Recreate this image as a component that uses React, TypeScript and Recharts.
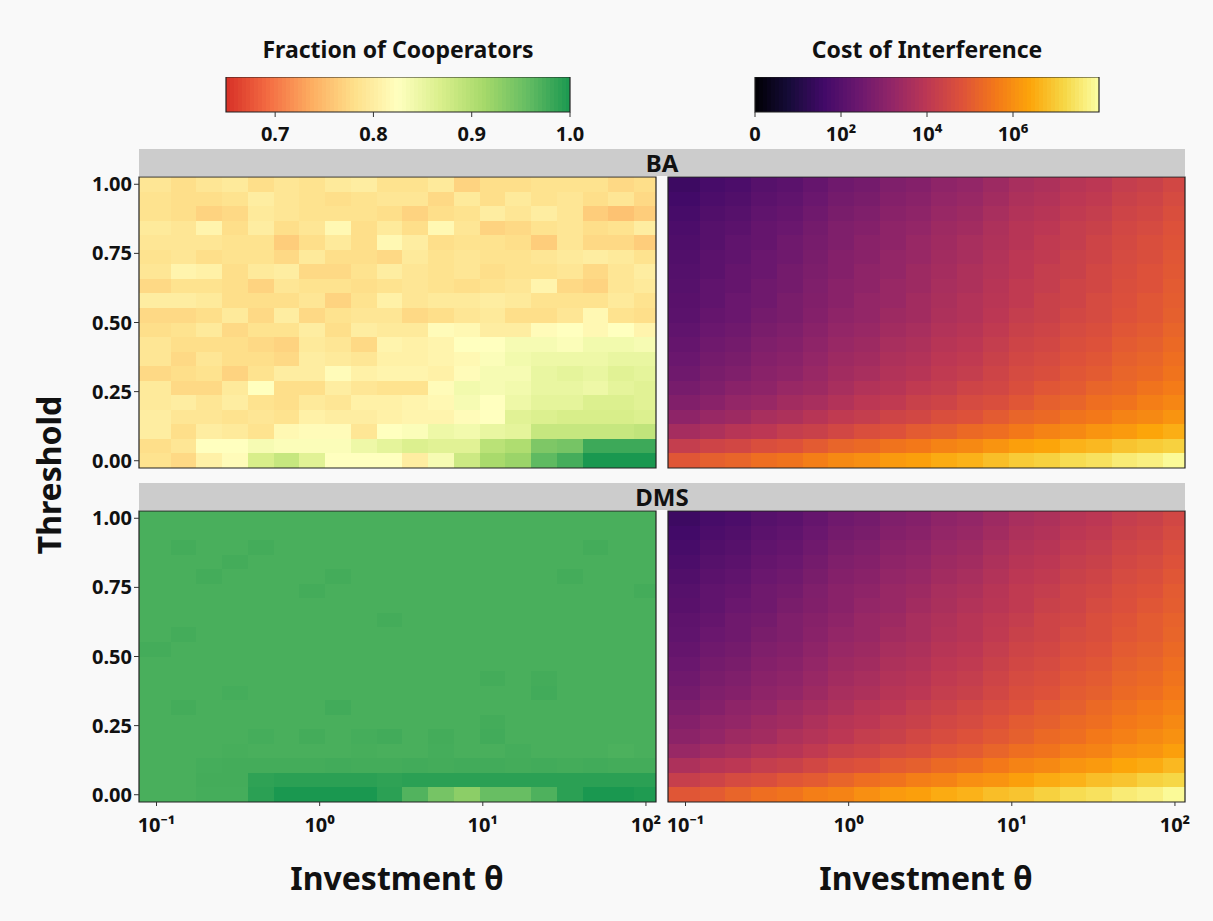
import React from "react";
import { ScatterChart, XAxis, YAxis, ReferenceArea } from "recharts";

// cell centres (log-spaced investment, linear threshold)
const investment = [
  0.1, 0.1438, 0.2069, 0.2976, 0.4281, 0.6158, 0.8859, 1.2743, 1.833, 2.6367,
  3.7927, 5.4556, 7.8476, 11.288, 16.238, 23.357, 33.598, 48.329, 69.519, 100,
];
const threshold = [
  0, 0.0526, 0.1053, 0.1579, 0.2105, 0.2632, 0.3158, 0.3684, 0.4211, 0.4737,
  0.5263, 0.5789, 0.6316, 0.6842, 0.7368, 0.7895, 0.8421, 0.8947, 0.9474, 1,
];

const investmentTicks = [0.1, 1, 10, 100];
const investmentLabels = ["10⁻¹", "10⁰", "10¹", "10²"];
const thresholdTicks = [0, 0.25, 0.5, 0.75, 1];
const coopTicks = [0.7, 0.8, 0.9, 1.0];
const coopLabels = ["0.7", "0.8", "0.9", "1.0"];
const costTicks = [0, 2, 4, 6];
const costLabels = ["0", "10²", "10⁴", "10⁶"];

// fraction of cooperators, BA network (row = threshold, bottom first)
const baCooperators = [
  [0.785, 0.775, 0.805, 0.82, 0.87, 0.885, 0.86, 0.825, 0.825, 0.825, 0.8, 0.835, 0.88, 0.91, 0.92, 0.96, 0.975, 1.0, 1.0, 1.0],
  [0.78, 0.79, 0.825, 0.825, 0.835, 0.83, 0.83, 0.83, 0.845, 0.855, 0.865, 0.86, 0.86, 0.895, 0.905, 0.94, 0.945, 0.98, 0.98, 0.98],
  [0.8, 0.78, 0.8, 0.795, 0.785, 0.815, 0.82, 0.82, 0.79, 0.825, 0.83, 0.845, 0.84, 0.85, 0.855, 0.885, 0.885, 0.885, 0.885, 0.89],
  [0.8, 0.79, 0.79, 0.785, 0.79, 0.785, 0.805, 0.8, 0.8, 0.805, 0.81, 0.81, 0.82, 0.825, 0.86, 0.865, 0.87, 0.87, 0.87, 0.865],
  [0.795, 0.8, 0.79, 0.8, 0.785, 0.78, 0.795, 0.79, 0.805, 0.805, 0.81, 0.815, 0.835, 0.825, 0.845, 0.855, 0.855, 0.865, 0.865, 0.86],
  [0.795, 0.775, 0.775, 0.795, 0.825, 0.78, 0.78, 0.8, 0.79, 0.785, 0.785, 0.82, 0.84, 0.835, 0.84, 0.85, 0.85, 0.845, 0.855, 0.86],
  [0.775, 0.78, 0.785, 0.77, 0.785, 0.8, 0.8, 0.82, 0.805, 0.81, 0.81, 0.805, 0.82, 0.835, 0.835, 0.85, 0.855, 0.85, 0.86, 0.855],
  [0.79, 0.775, 0.79, 0.78, 0.78, 0.775, 0.8, 0.795, 0.79, 0.805, 0.805, 0.81, 0.815, 0.83, 0.84, 0.845, 0.845, 0.845, 0.85, 0.85],
  [0.79, 0.78, 0.78, 0.78, 0.775, 0.77, 0.795, 0.79, 0.775, 0.81, 0.805, 0.81, 0.825, 0.825, 0.835, 0.835, 0.83, 0.84, 0.84, 0.835],
  [0.78, 0.785, 0.795, 0.775, 0.785, 0.785, 0.8, 0.78, 0.8, 0.795, 0.795, 0.82, 0.815, 0.8, 0.8, 0.82, 0.825, 0.815, 0.825, 0.81],
  [0.775, 0.775, 0.78, 0.795, 0.775, 0.8, 0.775, 0.785, 0.79, 0.79, 0.775, 0.78, 0.79, 0.795, 0.78, 0.78, 0.79, 0.815, 0.785, 0.78],
  [0.8, 0.8, 0.795, 0.78, 0.78, 0.78, 0.79, 0.77, 0.785, 0.805, 0.79, 0.795, 0.795, 0.8, 0.795, 0.785, 0.785, 0.785, 0.795, 0.785],
  [0.775, 0.785, 0.785, 0.78, 0.77, 0.79, 0.785, 0.785, 0.78, 0.785, 0.79, 0.785, 0.78, 0.785, 0.79, 0.81, 0.775, 0.77, 0.79, 0.795],
  [0.79, 0.81, 0.805, 0.78, 0.795, 0.8, 0.775, 0.775, 0.785, 0.8, 0.79, 0.785, 0.79, 0.78, 0.785, 0.785, 0.79, 0.775, 0.79, 0.8],
  [0.785, 0.79, 0.78, 0.785, 0.785, 0.775, 0.795, 0.78, 0.78, 0.775, 0.795, 0.785, 0.79, 0.785, 0.785, 0.79, 0.795, 0.8, 0.795, 0.785],
  [0.79, 0.79, 0.79, 0.785, 0.785, 0.765, 0.78, 0.795, 0.78, 0.815, 0.8, 0.78, 0.785, 0.785, 0.78, 0.765, 0.79, 0.775, 0.775, 0.765],
  [0.795, 0.79, 0.81, 0.78, 0.8, 0.78, 0.79, 0.815, 0.78, 0.795, 0.78, 0.815, 0.79, 0.77, 0.775, 0.785, 0.79, 0.78, 0.785, 0.8],
  [0.785, 0.78, 0.77, 0.775, 0.795, 0.79, 0.785, 0.785, 0.785, 0.78, 0.77, 0.78, 0.785, 0.8, 0.79, 0.8, 0.79, 0.765, 0.755, 0.765],
  [0.785, 0.78, 0.78, 0.785, 0.8, 0.79, 0.785, 0.78, 0.785, 0.79, 0.79, 0.775, 0.795, 0.78, 0.795, 0.785, 0.79, 0.78, 0.79, 0.775],
  [0.79, 0.78, 0.79, 0.795, 0.78, 0.79, 0.785, 0.795, 0.8, 0.785, 0.785, 0.795, 0.77, 0.78, 0.78, 0.785, 0.785, 0.785, 0.775, 0.78],
];

// fraction of cooperators, DMS network
const dmsCooperators = [
  [0.973, 0.973, 0.975, 0.975, 0.99, 1.0, 1.0, 1.0, 1.0, 0.99, 0.968, 0.945, 0.93, 0.955, 0.955, 0.97, 0.99, 1.0, 1.0, 0.997],
  [0.973, 0.973, 0.976, 0.976, 0.988, 0.99, 0.99, 0.99, 0.99, 0.988, 0.99, 0.99, 0.99, 0.99, 0.99, 0.99, 0.99, 0.99, 0.99, 0.99],
  [0.973, 0.973, 0.975, 0.976, 0.976, 0.976, 0.976, 0.977, 0.976, 0.976, 0.977, 0.976, 0.977, 0.977, 0.976, 0.977, 0.976, 0.977, 0.976, 0.976],
  [0.973, 0.973, 0.973, 0.974, 0.973, 0.973, 0.973, 0.973, 0.974, 0.973, 0.973, 0.975, 0.973, 0.973, 0.975, 0.973, 0.973, 0.973, 0.971, 0.973],
  [0.973, 0.973, 0.973, 0.973, 0.975, 0.973, 0.976, 0.973, 0.975, 0.977, 0.973, 0.976, 0.973, 0.977, 0.973, 0.973, 0.973, 0.973, 0.973, 0.973],
  [0.973, 0.973, 0.973, 0.973, 0.973, 0.973, 0.973, 0.973, 0.973, 0.973, 0.973, 0.973, 0.973, 0.976, 0.973, 0.973, 0.973, 0.973, 0.973, 0.973],
  [0.973, 0.976, 0.973, 0.973, 0.973, 0.973, 0.973, 0.977, 0.973, 0.973, 0.973, 0.973, 0.973, 0.973, 0.973, 0.973, 0.973, 0.973, 0.973, 0.973],
  [0.973, 0.973, 0.973, 0.975, 0.973, 0.973, 0.973, 0.973, 0.973, 0.973, 0.973, 0.973, 0.973, 0.973, 0.973, 0.977, 0.973, 0.973, 0.973, 0.973],
  [0.973, 0.973, 0.973, 0.973, 0.973, 0.973, 0.973, 0.973, 0.973, 0.973, 0.973, 0.973, 0.973, 0.976, 0.973, 0.976, 0.973, 0.973, 0.973, 0.973],
  [0.973, 0.973, 0.973, 0.973, 0.973, 0.973, 0.973, 0.973, 0.973, 0.973, 0.973, 0.973, 0.973, 0.973, 0.973, 0.973, 0.973, 0.973, 0.973, 0.973],
  [0.976, 0.973, 0.973, 0.973, 0.973, 0.973, 0.973, 0.973, 0.973, 0.973, 0.973, 0.973, 0.973, 0.973, 0.973, 0.973, 0.973, 0.973, 0.973, 0.973],
  [0.973, 0.976, 0.973, 0.973, 0.973, 0.973, 0.973, 0.973, 0.973, 0.973, 0.973, 0.973, 0.973, 0.973, 0.973, 0.973, 0.973, 0.973, 0.973, 0.973],
  [0.973, 0.973, 0.973, 0.973, 0.973, 0.973, 0.973, 0.973, 0.973, 0.976, 0.973, 0.973, 0.973, 0.973, 0.973, 0.973, 0.973, 0.973, 0.973, 0.973],
  [0.973, 0.973, 0.973, 0.973, 0.973, 0.973, 0.973, 0.973, 0.973, 0.973, 0.973, 0.973, 0.973, 0.973, 0.973, 0.973, 0.973, 0.973, 0.973, 0.973],
  [0.973, 0.973, 0.973, 0.973, 0.973, 0.973, 0.976, 0.973, 0.973, 0.973, 0.973, 0.973, 0.973, 0.973, 0.973, 0.973, 0.973, 0.973, 0.973, 0.976],
  [0.973, 0.973, 0.976, 0.973, 0.973, 0.973, 0.973, 0.976, 0.973, 0.973, 0.973, 0.973, 0.973, 0.973, 0.973, 0.973, 0.976, 0.973, 0.973, 0.973],
  [0.973, 0.973, 0.973, 0.976, 0.973, 0.973, 0.973, 0.973, 0.973, 0.973, 0.973, 0.973, 0.973, 0.973, 0.973, 0.973, 0.973, 0.973, 0.973, 0.973],
  [0.973, 0.976, 0.973, 0.973, 0.976, 0.973, 0.973, 0.973, 0.973, 0.973, 0.973, 0.973, 0.973, 0.973, 0.973, 0.973, 0.973, 0.976, 0.973, 0.973],
  [0.973, 0.973, 0.973, 0.973, 0.973, 0.973, 0.973, 0.973, 0.973, 0.973, 0.973, 0.973, 0.973, 0.973, 0.973, 0.973, 0.973, 0.973, 0.973, 0.973],
  [0.973, 0.973, 0.973, 0.973, 0.973, 0.973, 0.973, 0.973, 0.973, 0.973, 0.973, 0.973, 0.973, 0.973, 0.973, 0.973, 0.973, 0.973, 0.973, 0.973],
];

// cost of interference, log10 units, BA network
const baCost = [
  [4.9, 5.1, 5.2, 5.4, 5.5, 5.7, 5.9, 6.0, 6.2, 6.3, 6.5, 6.6, 6.8, 7.0, 7.1, 7.3, 7.4, 7.6, 7.7, 7.9],
  [4.2, 4.4, 4.5, 4.7, 4.8, 5.0, 5.2, 5.3, 5.5, 5.6, 5.8, 5.9, 6.1, 6.3, 6.4, 6.6, 6.7, 6.9, 7.0, 7.1],
  [3.55, 3.7, 3.9, 4.0, 4.2, 4.3, 4.5, 4.7, 4.8, 5.0, 5.1, 5.3, 5.4, 5.6, 5.8, 5.9, 6.1, 6.2, 6.4, 6.55],
  [3.1, 3.3, 3.4, 3.6, 3.7, 3.9, 4.1, 4.2, 4.4, 4.5, 4.7, 4.8, 5.0, 5.2, 5.3, 5.5, 5.6, 5.8, 5.9, 6.1],
  [2.85, 3.0, 3.2, 3.3, 3.5, 3.6, 3.8, 4.0, 4.1, 4.3, 4.4, 4.6, 4.7, 4.9, 5.1, 5.2, 5.4, 5.5, 5.7, 5.85],
  [2.65, 2.8, 3.0, 3.1, 3.3, 3.4, 3.6, 3.8, 3.9, 4.1, 4.2, 4.4, 4.5, 4.7, 4.9, 5.0, 5.2, 5.3, 5.5, 5.65],
  [2.5, 2.7, 2.8, 3.0, 3.1, 3.3, 3.5, 3.6, 3.8, 3.9, 4.1, 4.2, 4.4, 4.6, 4.7, 4.9, 5.0, 5.2, 5.3, 5.5],
  [2.4, 2.6, 2.7, 2.9, 3.0, 3.2, 3.4, 3.5, 3.7, 3.8, 4.0, 4.1, 4.3, 4.5, 4.6, 4.8, 4.9, 5.1, 5.2, 5.4],
  [2.3, 2.5, 2.6, 2.8, 2.9, 3.1, 3.3, 3.4, 3.6, 3.7, 3.9, 4.0, 4.2, 4.4, 4.5, 4.7, 4.8, 5.0, 5.1, 5.3],
  [2.2, 2.4, 2.5, 2.7, 2.8, 3.0, 3.2, 3.3, 3.5, 3.6, 3.8, 3.9, 4.1, 4.3, 4.4, 4.6, 4.7, 4.9, 5.0, 5.2],
  [2.1, 2.3, 2.4, 2.6, 2.7, 2.9, 3.1, 3.2, 3.4, 3.5, 3.7, 3.8, 4.0, 4.2, 4.3, 4.5, 4.6, 4.8, 4.9, 5.1],
  [2.05, 2.2, 2.4, 2.5, 2.7, 2.85, 3.0, 3.2, 3.3, 3.5, 3.65, 3.8, 3.95, 4.1, 4.3, 4.4, 4.6, 4.75, 4.9, 5.05],
  [2.0, 2.2, 2.3, 2.5, 2.6, 2.8, 3.0, 3.1, 3.3, 3.4, 3.6, 3.7, 3.9, 4.1, 4.2, 4.4, 4.5, 4.7, 4.8, 5.0],
  [1.95, 2.1, 2.3, 2.4, 2.6, 2.75, 2.9, 3.1, 3.2, 3.4, 3.55, 3.7, 3.85, 4.0, 4.2, 4.3, 4.5, 4.65, 4.8, 4.95],
  [1.9, 2.1, 2.2, 2.4, 2.5, 2.7, 2.9, 3.0, 3.2, 3.3, 3.5, 3.6, 3.8, 4.0, 4.1, 4.3, 4.4, 4.6, 4.7, 4.9],
  [1.85, 2.0, 2.2, 2.3, 2.5, 2.65, 2.8, 3.0, 3.1, 3.3, 3.45, 3.6, 3.75, 3.9, 4.1, 4.2, 4.4, 4.55, 4.7, 4.85],
  [1.8, 2.0, 2.1, 2.3, 2.4, 2.6, 2.8, 2.9, 3.1, 3.2, 3.4, 3.5, 3.7, 3.9, 4.0, 4.2, 4.3, 4.5, 4.6, 4.8],
  [1.7, 1.9, 2.0, 2.2, 2.3, 2.5, 2.7, 2.8, 3.0, 3.1, 3.3, 3.4, 3.6, 3.8, 3.9, 4.1, 4.2, 4.4, 4.5, 4.7],
  [1.6, 1.8, 1.9, 2.1, 2.2, 2.4, 2.6, 2.7, 2.9, 3.0, 3.2, 3.3, 3.5, 3.7, 3.8, 4.0, 4.1, 4.3, 4.4, 4.6],
  [1.5, 1.7, 1.8, 2.0, 2.1, 2.3, 2.5, 2.6, 2.8, 2.9, 3.1, 3.2, 3.4, 3.6, 3.7, 3.9, 4.0, 4.2, 4.3, 4.5],
];

// cost of interference, log10 units, DMS network
const dmsCost = [
  [4.9, 5.0, 5.2, 5.4, 5.5, 5.7, 5.8, 6.0, 6.2, 6.3, 6.5, 6.6, 6.8, 6.9, 7.1, 7.3, 7.4, 7.6, 7.7, 7.9],
  [4.25, 4.4, 4.6, 4.7, 4.9, 5.0, 5.2, 5.4, 5.5, 5.7, 5.8, 6.0, 6.1, 6.3, 6.5, 6.6, 6.8, 6.9, 7.1, 7.2],
  [3.7, 3.9, 4.0, 4.2, 4.3, 4.5, 4.7, 4.8, 5.0, 5.1, 5.3, 5.4, 5.6, 5.8, 5.9, 6.1, 6.2, 6.4, 6.5, 6.7],
  [3.3, 3.5, 3.6, 3.8, 3.9, 4.1, 4.3, 4.4, 4.6, 4.7, 4.9, 5.0, 5.2, 5.4, 5.5, 5.7, 5.8, 6.0, 6.1, 6.3],
  [3.05, 3.2, 3.4, 3.5, 3.7, 3.85, 4.0, 4.2, 4.3, 4.5, 4.65, 4.8, 4.95, 5.1, 5.3, 5.4, 5.6, 5.75, 5.9, 6.05],
  [2.9, 3.1, 3.2, 3.4, 3.5, 3.7, 3.9, 4.0, 4.2, 4.3, 4.5, 4.6, 4.8, 5.0, 5.1, 5.3, 5.4, 5.6, 5.7, 5.9],
  [2.75, 2.9, 3.1, 3.2, 3.4, 3.55, 3.7, 3.9, 4.0, 4.2, 4.35, 4.5, 4.65, 4.8, 5.0, 5.1, 5.3, 5.45, 5.6, 5.75],
  [2.6, 2.8, 2.9, 3.1, 3.2, 3.4, 3.6, 3.7, 3.9, 4.0, 4.2, 4.3, 4.5, 4.7, 4.8, 5.0, 5.1, 5.3, 5.4, 5.6],
  [2.5, 2.7, 2.8, 3.0, 3.1, 3.3, 3.5, 3.6, 3.8, 3.9, 4.1, 4.2, 4.4, 4.6, 4.7, 4.9, 5.0, 5.2, 5.3, 5.5],
  [2.4, 2.6, 2.7, 2.9, 3.0, 3.2, 3.4, 3.5, 3.7, 3.8, 4.0, 4.1, 4.3, 4.5, 4.6, 4.8, 4.9, 5.1, 5.2, 5.4],
  [2.3, 2.5, 2.6, 2.8, 2.9, 3.1, 3.3, 3.4, 3.6, 3.7, 3.9, 4.0, 4.2, 4.4, 4.5, 4.7, 4.8, 5.0, 5.1, 5.3],
  [2.2, 2.4, 2.5, 2.7, 2.8, 3.0, 3.2, 3.3, 3.5, 3.6, 3.8, 3.9, 4.1, 4.3, 4.4, 4.6, 4.7, 4.9, 5.0, 5.2],
  [2.15, 2.3, 2.5, 2.6, 2.8, 2.95, 3.1, 3.3, 3.4, 3.6, 3.75, 3.9, 4.05, 4.2, 4.4, 4.5, 4.7, 4.85, 5.0, 5.15],
  [2.05, 2.2, 2.4, 2.5, 2.7, 2.85, 3.0, 3.2, 3.3, 3.5, 3.65, 3.8, 3.95, 4.1, 4.3, 4.4, 4.6, 4.75, 4.9, 5.05],
  [2.0, 2.2, 2.3, 2.5, 2.6, 2.8, 3.0, 3.1, 3.3, 3.4, 3.6, 3.7, 3.9, 4.1, 4.2, 4.4, 4.5, 4.7, 4.8, 5.0],
  [1.9, 2.1, 2.2, 2.4, 2.5, 2.7, 2.9, 3.0, 3.2, 3.3, 3.5, 3.6, 3.8, 4.0, 4.1, 4.3, 4.4, 4.6, 4.7, 4.9],
  [1.8, 2.0, 2.1, 2.3, 2.4, 2.6, 2.8, 2.9, 3.1, 3.2, 3.4, 3.5, 3.7, 3.9, 4.0, 4.2, 4.3, 4.5, 4.6, 4.8],
  [1.7, 1.9, 2.0, 2.2, 2.3, 2.5, 2.7, 2.8, 3.0, 3.1, 3.3, 3.4, 3.6, 3.8, 3.9, 4.1, 4.2, 4.4, 4.5, 4.7],
  [1.6, 1.8, 1.9, 2.1, 2.2, 2.4, 2.6, 2.7, 2.9, 3.0, 3.2, 3.3, 3.5, 3.7, 3.8, 4.0, 4.1, 4.3, 4.4, 4.6],
  [1.5, 1.7, 1.8, 2.0, 2.1, 2.3, 2.5, 2.6, 2.8, 2.9, 3.1, 3.2, 3.4, 3.6, 3.7, 3.9, 4.0, 4.2, 4.3, 4.5],
];

const RDYLGN = ["#a50026", "#d73027", "#f46d43", "#fdae61", "#fee08b", "#ffffbf", "#d9ef8b", "#a6d96a", "#66bd63", "#1a9850", "#006837"];
const INFERNO = ["#000004", "#160b39", "#420a68", "#6a176e", "#932667", "#bc3754", "#dd513a", "#f37819", "#fca50a", "#f6d746", "#fcffa4"];

const FONT = "'Noto Sans', 'Open Sans', sans-serif";
const BG = "#f9f9f9";

function hex(h: string) {
  return [1, 3, 5].map((i) => parseInt(h.slice(i, i + 2), 16));
}

function sample(stops: string[], t: number) {
  const c = Math.min(1, Math.max(0, t)) * (stops.length - 1);
  const i = Math.min(stops.length - 2, Math.floor(c));
  const f = c - i;
  const a = hex(stops[i]);
  const b = hex(stops[i + 1]);
  const rgb = a.map((v, k) => Math.round(v + (b[k] - v) * f));
  return `rgb(${rgb.join(",")})`;
}

const coopColor = (v: number) => sample(RDYLGN, 0.1 + 0.8 * ((v - 0.65) / 0.35));
const costColor = (v: number) => sample(INFERNO, v / 8);

// cell edges halfway between centres, outer edges mirrored
function edges(c: number[]) {
  const inner = c.slice(1).map((v, i) => (v + c[i]) / 2);
  return [c[0] - (inner[0] - c[0]), ...inner, c[c.length - 1] + (c[c.length - 1] - inner[inner.length - 1])];
}

const xEdges = edges(investment);
const yEdges = edges(threshold);

const tickStyle = { fontSize: 20, fontWeight: 700, fill: "#111", fontFamily: FONT };

function HeatPanel({ values, color, showX, showY, left, top }: any) {
  const width = showY ? 606 : 537;
  const height = showX ? 346 : 306;
  return (
    <div style={{ position: "absolute", left, top }}>
      <ScatterChart width={width} height={height} margin={{ top: 10, right: 10, bottom: 5, left: showY ? 0 : 10 }}>
        <XAxis
          type="number"
          dataKey="x"
          scale="log"
          domain={[xEdges[0], xEdges[xEdges.length - 1]]}
          allowDataOverflow
          ticks={investmentTicks}
          tickFormatter={(v: number) => investmentLabels[investmentTicks.indexOf(v)] ?? ""}
          hide={!showX}
          height={40}
          axisLine={false}
          tickLine={{ stroke: "#333" }}
          tickSize={4}
          tickMargin={12}
          tick={tickStyle}
          interval={0}
        />
        <YAxis
          type="number"
          dataKey="y"
          domain={[yEdges[0], yEdges[yEdges.length - 1]]}
          allowDataOverflow
          ticks={thresholdTicks}
          tickFormatter={(v: number) => v.toFixed(2)}
          hide={!showY}
          width={79}
          axisLine={false}
          tickLine={{ stroke: "#333" }}
          tickSize={5}
          tickMargin={2}
          tick={tickStyle}
          interval={0}
        />
        {values.map((row: number[], r: number) =>
          row.map((v: number, c: number) => (
            <ReferenceArea
              key={`${r}-${c}`}
              x1={xEdges[c]}
              x2={xEdges[c + 1]}
              y1={yEdges[r]}
              y2={yEdges[r + 1]}
              fill={color(v)}
              fillOpacity={1}
              stroke="none"
              shapeRendering="crispEdges"
              ifOverflow="visible"
            />
          ))
        )}
        <ReferenceArea
          x1={xEdges[0]}
          x2={xEdges[xEdges.length - 1]}
          y1={yEdges[0]}
          y2={yEdges[yEdges.length - 1]}
          fill="none"
          stroke="#222"
          strokeWidth={1.2}
          ifOverflow="visible"
        />
      </ScatterChart>
    </div>
  );
}

function ColorBar({ domain, ticks, labels, color, left, title }: any) {
  const steps = 86;
  const span = domain[1] - domain[0];
  const slices = Array.from({ length: steps }, (_, i) => [domain[0] + (span * i) / steps, domain[0] + (span * (i + 1)) / steps]);
  return (
    <div style={{ position: "absolute", left: left - 30, top: 30 }}>
      <div
        style={{
          position: "absolute",
          left: 0,
          width: 404,
          top: 3,
          textAlign: "center",
          fontFamily: FONT,
          fontWeight: 700,
          fontSize: 23,
          color: "#111",
          whiteSpace: "nowrap",
        }}
      >
        {title}
      </div>
      <div style={{ position: "absolute", left: 0, top: 47 }}>
        <ScatterChart width={404} height={80} margin={{ top: 0, right: 30, bottom: 5, left: 30 }}>
          <XAxis
            type="number"
            dataKey="x"
            domain={domain}
            allowDataOverflow
            ticks={ticks}
            tickFormatter={(v: number) => labels[ticks.indexOf(v)] ?? ""}
            height={40}
            axisLine={false}
            tickLine={{ stroke: "#333" }}
            tickSize={5}
            tickMargin={10}
            tick={tickStyle}
            interval={0}
          />
          <YAxis type="number" dataKey="y" domain={[0, 1]} allowDataOverflow hide />
          {slices.map(([a, b], i) => (
            <ReferenceArea
              key={i}
              x1={a}
              x2={b}
              y1={0}
              y2={1}
              fill={color((a + b) / 2)}
              fillOpacity={1}
              stroke="none"
              shapeRendering="crispEdges"
              ifOverflow="visible"
            />
          ))}
          <ReferenceArea
            x1={domain[0]}
            x2={domain[1]}
            y1={0}
            y2={1}
            fill="none"
            stroke="#222"
            strokeWidth={1.2}
            ifOverflow="visible"
          />
        </ScatterChart>
      </div>
    </div>
  );
}

function Strip({ label, top }: { label: string; top: number }) {
  return (
    <div
      style={{
        position: "absolute",
        left: 139,
        top,
        width: 1046,
        height: 27,
        background: "#cccccc",
        textAlign: "center",
        lineHeight: "28px",
        fontFamily: FONT,
        fontWeight: 700,
        fontSize: 24,
        color: "#111",
      }}
    >
      {label}
    </div>
  );
}

export default function App() {
  const axisTitle = { position: "absolute" as const, fontFamily: FONT, fontWeight: 700, fontSize: 32, color: "#111" };
  return (
    <div style={{ position: "absolute", left: 0, top: 0, width: 1213, height: 921, background: BG, overflow: "hidden" }}>
      <ColorBar
        title="Fraction of Cooperators"
        left={226}
        domain={[0.65, 1.0]}
        ticks={coopTicks}
        labels={coopLabels}
        color={coopColor}
      />
      <ColorBar
        title="Cost of Interference"
        left={755}
        domain={[0, 8]}
        ticks={costTicks}
        labels={costLabels}
        color={costColor}
      />

      <Strip label="BA" top={149} />
      <Strip label="DMS" top={483} />

      <HeatPanel values={baCooperators} color={coopColor} showY showX={false} left={60} top={167} />
      <HeatPanel values={baCost} color={costColor} showY={false} showX={false} left={658} top={167} />
      <HeatPanel values={dmsCooperators} color={coopColor} showY showX left={60} top={501} />
      <HeatPanel values={dmsCost} color={costColor} showY={false} showX left={658} top={501} />

      <div style={{ ...axisTitle, left: 48, top: 475, transform: "translate(-50%, -50%) rotate(-90deg)", whiteSpace: "nowrap" }}>
        Threshold
      </div>
      <div style={{ ...axisTitle, left: 397, top: 877, transform: "translate(-50%, -50%)", whiteSpace: "nowrap" }}>
        Investment θ
      </div>
      <div style={{ ...axisTitle, left: 926, top: 877, transform: "translate(-50%, -50%)", whiteSpace: "nowrap" }}>
        Investment θ
      </div>
    </div>
  );
}
